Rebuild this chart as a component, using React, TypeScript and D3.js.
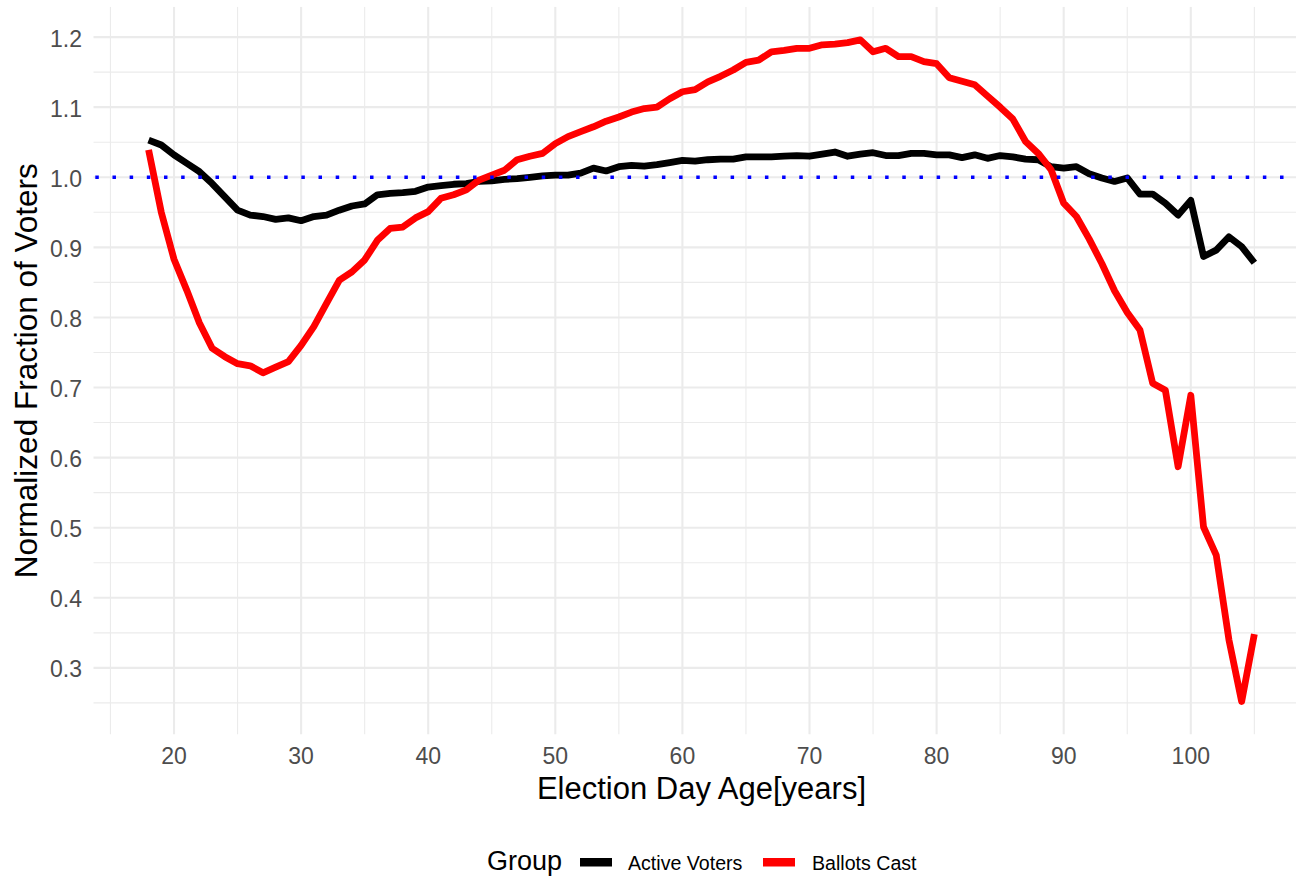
import React from "react";
import * as d3 from "d3";

const ages: number[] = d3.range(18, 106);

const activeVoters: number[] = [
  1.053, 1.046, 1.032, 1.020, 1.008, 0.991, 0.972, 0.953, 0.946, 0.944,
  0.940, 0.942, 0.938, 0.944, 0.946, 0.953, 0.959, 0.962, 0.975, 0.977,
  0.978, 0.980, 0.986, 0.988, 0.990, 0.991, 0.994, 0.995, 0.997, 0.998,
  1.000, 1.002, 1.003, 1.003, 1.006, 1.013, 1.009, 1.015, 1.017, 1.016,
  1.018, 1.021, 1.024, 1.023, 1.025, 1.026, 1.026, 1.029, 1.029, 1.029,
  1.030, 1.031, 1.030, 1.033, 1.036, 1.030, 1.033, 1.035, 1.031, 1.031,
  1.034, 1.034, 1.032, 1.032, 1.028, 1.032, 1.027, 1.031, 1.029, 1.026,
  1.025, 1.015, 1.013, 1.015, 1.005, 0.999, 0.994, 0.999, 0.976, 0.976,
  0.963, 0.946, 0.967, 0.887, 0.896, 0.915, 0.901, 0.878,
];

const ballotsCast: number[] = [
  1.039, 0.950, 0.883, 0.839, 0.792, 0.756, 0.744, 0.734, 0.731, 0.721,
  0.729, 0.737, 0.760, 0.787, 0.820, 0.853, 0.865, 0.882, 0.910, 0.927,
  0.929, 0.942, 0.951, 0.970, 0.975, 0.982, 0.996, 1.003, 1.010, 1.025,
  1.030, 1.034, 1.048, 1.058, 1.065, 1.072, 1.080, 1.086, 1.093, 1.098,
  1.100, 1.112, 1.122, 1.125, 1.136, 1.144, 1.153, 1.164, 1.167, 1.179,
  1.181, 1.184, 1.184, 1.189, 1.190, 1.192, 1.196, 1.179, 1.184, 1.172,
  1.172, 1.165, 1.162, 1.142, 1.137, 1.132, 1.116, 1.100, 1.083, 1.051,
  1.034, 1.011, 0.963, 0.944, 0.912, 0.877, 0.838, 0.807, 0.782, 0.706,
  0.696, 0.587, 0.689, 0.501, 0.461, 0.340, 0.252, 0.348,
];

const groups: string[] = ["Active Voters", "Ballots Cast"];
const groupColors: string[] = ["#000000", "#FF0000"];
const xTicks: number[] = [20, 30, 40, 50, 60, 70, 80, 90, 100];
const xMinor: number[] = [15, 25, 35, 45, 55, 65, 75, 85, 95, 105];
const yTicks: number[] = [0.3, 0.4, 0.5, 0.6, 0.7, 0.8, 0.9, 1.0, 1.1, 1.2];
const yMinor: number[] = [0.25, 0.35, 0.45, 0.55, 0.65, 0.75, 0.85, 0.95, 1.05, 1.15];
const refLine = 1.0;

const W = 1296;
const H = 877;
const panel = { left: 93.3, top: 6.8, bottom: 734.6 };

export default function App() {
  const xExt = d3.extent(ages) as [number, number];
  const xPad = (xExt[1] - xExt[0]) * 0.05;
  const allY = activeVoters.concat(ballotsCast);
  const yExt = d3.extent(allY) as [number, number];
  const yPad = (yExt[1] - yExt[0]) * 0.05;

  const pxPerYear = 12.71;
  const xDomain: [number, number] = [xExt[0] - xPad, xExt[1] + xPad];
  const panelRight = panel.left + (xDomain[1] - xDomain[0]) * pxPerYear;
  const x = d3.scaleLinear().domain(xDomain).range([panel.left, panelRight]);
  const y = d3
    .scaleLinear()
    .domain([yExt[0] - yPad, yExt[1] + yPad])
    .range([panel.bottom, panel.top]);

  const line = d3
    .line<number>()
    .x((_, i) => x(ages[i]))
    .y((d) => y(d));

  const series = [activeVoters, ballotsCast];
  const grid = "#EBEBEB";
  const font = "'Liberation Sans', Arial, sans-serif";

  return (
    <svg
      width={W}
      height={H}
      style={{ position: "absolute", left: 0, top: 0, background: "#fff" }}
      fontFamily={font}
    >
      <defs>
        <clipPath id="pc">
          <rect x={panel.left} y={panel.top} width={panelRight - panel.left} height={panel.bottom - panel.top} />
        </clipPath>
      </defs>
      <g clipPath="url(#pc)">
        {yMinor.map((v) => (
          <line key={"ym" + v} x1={panel.left} x2={panelRight} y1={y(v)} y2={y(v)} stroke={grid} strokeWidth={1.1} />
        ))}
        {xMinor.map((v) => (
          <line key={"xm" + v} x1={x(v)} x2={x(v)} y1={panel.top} y2={panel.bottom} stroke={grid} strokeWidth={1.1} />
        ))}
        {yTicks.map((v) => (
          <line key={"yM" + v} x1={panel.left} x2={panelRight} y1={y(v)} y2={y(v)} stroke={grid} strokeWidth={2.1} />
        ))}
        {xTicks.map((v) => (
          <line key={"xM" + v} x1={x(v)} x2={x(v)} y1={panel.top} y2={panel.bottom} stroke={grid} strokeWidth={2.1} />
        ))}
        {series.map((s, i) => (
          <path
            key={groups[i]}
            d={line(s) || ""}
            fill="none"
            stroke={groupColors[i]}
            strokeWidth={6.8}
            strokeLinejoin="round"
            strokeLinecap="butt"
          />
        ))}
        <line
          x1={panel.left}
          x2={panelRight}
          y1={y(refLine)}
          y2={y(refLine)}
          stroke="#0000FF"
          strokeWidth={3.5}
          strokeDasharray="3.5 13.67"
          strokeDashoffset={-2}
        />
      </g>
      {yTicks.map((v) => (
        <text key={"yt" + v} x={82} y={y(v) + 9.6} textAnchor="end" fontSize={23} fill="#4D4D4D">
          {v.toFixed(1)}
        </text>
      ))}
      {xTicks.map((v) => (
        <text key={"xt" + v} x={x(v)} y={764} textAnchor="middle" fontSize={23} fill="#4D4D4D">
          {v}
        </text>
      ))}
      <text x={(panel.left + panelRight) / 2} y={799} textAnchor="middle" fontSize={31} fill="#000">
        Election Day Age[years]
      </text>
      <text
        transform={`translate(37, ${(panel.top + panel.bottom) / 2}) rotate(-90)`}
        textAnchor="middle"
        fontSize={31.5}
        fill="#000"
      >
        Normalized Fraction of Voters
      </text>
      <text x={487} y={870} fontSize={27} fill="#000">Group</text>
      <rect x={580} y={858} width={32} height={8.5} fill={groupColors[0]} />
      <text x={628} y={870} fontSize={19.6} fill="#000">{groups[0]}</text>
      <rect x={763} y={858} width={32} height={8.5} fill={groupColors[1]} />
      <text x={812} y={870} fontSize={19.6} fill="#000">{groups[1]}</text>
    </svg>
  );
}
